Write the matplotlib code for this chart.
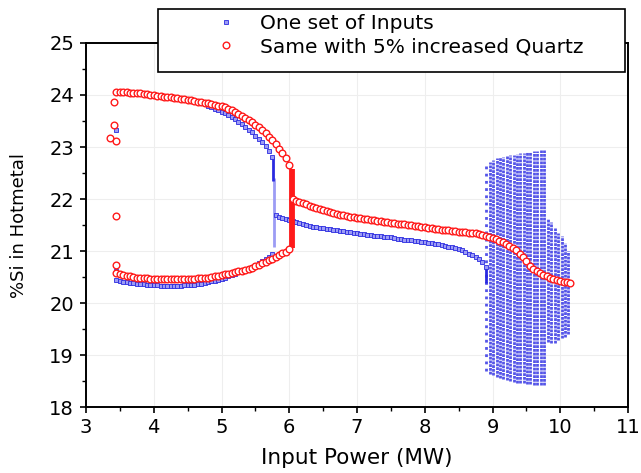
import numpy as np
import matplotlib
matplotlib.use("Agg")
import matplotlib.pyplot as plt
from matplotlib.patches import Rectangle

############ data ############
# input power samples (MW) shared by the upper / lower branches
x_branch_red = [3.45, 3.50, 3.55, 3.60, 3.65, 3.70, 3.75, 3.80, 3.85, 3.90,
                3.95, 4.00, 4.05, 4.10, 4.15, 4.20, 4.25, 4.30, 4.35, 4.40,
                4.45, 4.50, 4.55, 4.60, 4.65, 4.70, 4.75, 4.80, 4.85, 4.90,
                4.95, 5.00, 5.05, 5.10, 5.15, 5.20, 5.25, 5.30, 5.35, 5.40,
                5.45, 5.50, 5.55, 5.60, 5.65, 5.70, 5.75, 5.80, 5.85, 5.90,
                5.95, 6.00]
red_upper = [24.06, 24.06, 24.05, 24.05, 24.04, 24.04, 24.03, 24.03, 24.02, 24.01,
             24.00, 24.00, 23.99, 23.98, 23.97, 23.97, 23.96, 23.95, 23.94, 23.93,
             23.92, 23.91, 23.90, 23.89, 23.87, 23.86, 23.85, 23.84, 23.82, 23.81,
             23.79, 23.78, 23.76, 23.74, 23.71, 23.68, 23.64, 23.60, 23.56, 23.52,
             23.48, 23.43, 23.38, 23.32, 23.26, 23.20, 23.13, 23.05, 22.97, 22.88,
             22.78, 22.65]
red_lower = [20.57, 20.55, 20.54, 20.52, 20.51, 20.50, 20.49, 20.49, 20.48, 20.48,
             20.47, 20.47, 20.47, 20.47, 20.46, 20.46, 20.46, 20.46, 20.46, 20.46,
             20.46, 20.46, 20.47, 20.47, 20.48, 20.48, 20.49, 20.49, 20.50, 20.51,
             20.52, 20.53, 20.55, 20.56, 20.58, 20.59, 20.61, 20.62, 20.64, 20.66,
             20.68, 20.71, 20.73, 20.76, 20.79, 20.82, 20.85, 20.89, 20.92, 20.96,
             20.99, 21.03]

x_mid_red = [6.05, 6.10, 6.15, 6.20, 6.25, 6.30, 6.35, 6.40, 6.45, 6.50,
             6.55, 6.60, 6.65, 6.70, 6.75, 6.80, 6.85, 6.90, 6.95, 7.00,
             7.05, 7.10, 7.15, 7.20, 7.25, 7.30, 7.35, 7.40, 7.45, 7.50,
             7.55, 7.60, 7.65, 7.70, 7.75, 7.80, 7.85, 7.90, 7.95, 8.00,
             8.05, 8.10, 8.15, 8.20, 8.25, 8.30, 8.35, 8.40, 8.45, 8.50,
             8.55, 8.60, 8.65, 8.70, 8.75, 8.80, 8.85, 8.90, 8.95, 9.00,
             9.05, 9.10, 9.15, 9.20, 9.25, 9.30, 9.35, 9.40, 9.45, 9.50,
             9.55, 9.60, 9.65, 9.70, 9.75, 9.80, 9.85, 9.90, 9.95, 10.00,
             10.05, 10.10, 10.15]
red_mid = [22.00, 21.97, 21.95, 21.92, 21.90, 21.87, 21.85, 21.83, 21.81, 21.79,
           21.77, 21.75, 21.73, 21.72, 21.70, 21.69, 21.68, 21.66, 21.65, 21.64,
           21.63, 21.62, 21.61, 21.60, 21.59, 21.58, 21.57, 21.56, 21.55, 21.54,
           21.53, 21.52, 21.51, 21.51, 21.50, 21.50, 21.49, 21.48, 21.47, 21.46,
           21.45, 21.44, 21.43, 21.42, 21.41, 21.40, 21.40, 21.39, 21.38, 21.37,
           21.37, 21.36, 21.35, 21.34, 21.34, 21.33, 21.31, 21.29, 21.27, 21.25,
           21.23, 21.20, 21.17, 21.14, 21.10, 21.06, 21.01, 20.95, 20.88, 20.80,
           20.72, 20.66, 20.61, 20.57, 20.54, 20.51, 20.48, 20.46, 20.44, 20.42,
           20.41, 20.40, 20.39]

# scattered red start-up points near 3.4 MW
red_start_x = [3.42, 3.42, 3.36, 3.44, 3.44, 3.44]
red_start_y = [23.87, 23.42, 23.17, 23.12, 21.68, 20.73]

x_branch_blue = [3.45, 3.50, 3.55, 3.60, 3.65, 3.70, 3.75, 3.80, 3.85, 3.90,
                 3.95, 4.00, 4.05, 4.10, 4.15, 4.20, 4.25, 4.30, 4.35, 4.40,
                 4.45, 4.50, 4.55, 4.60, 4.65, 4.70, 4.75, 4.80, 4.85, 4.90,
                 4.95, 5.00, 5.05, 5.10, 5.15, 5.20, 5.25, 5.30, 5.35, 5.40,
                 5.45, 5.50, 5.55, 5.60, 5.65, 5.70, 5.75]
blue_upper = [24.05, 24.05, 24.04, 24.04, 24.03, 24.03, 24.02, 24.02, 24.01, 24.00,
              23.99, 23.99, 23.98, 23.97, 23.96, 23.96, 23.95, 23.94, 23.93, 23.92,
              23.91, 23.90, 23.89, 23.88, 23.86, 23.84, 23.82, 23.79, 23.77, 23.74,
              23.71, 23.68, 23.65, 23.61, 23.57, 23.53, 23.49, 23.44, 23.39, 23.33,
              23.28, 23.22, 23.16, 23.09, 23.01, 22.92, 22.80]
blue_lower = [20.44, 20.42, 20.41, 20.40, 20.39, 20.38, 20.37, 20.36, 20.36, 20.35,
              20.35, 20.34, 20.34, 20.33, 20.33, 20.33, 20.33, 20.33, 20.33, 20.33,
              20.34, 20.34, 20.35, 20.35, 20.36, 20.37, 20.39, 20.40, 20.42, 20.43,
              20.45, 20.47, 20.49, 20.51, 20.54, 20.56, 20.59, 20.61, 20.64, 20.67,
              20.70, 20.73, 20.77, 20.80, 20.84, 20.89, 20.95]

x_mid_blue = [5.80, 5.85, 5.90, 5.95, 6.00, 6.05, 6.10, 6.15, 6.20, 6.25,
              6.30, 6.35, 6.40, 6.45, 6.50, 6.55, 6.60, 6.65, 6.70, 6.75,
              6.80, 6.85, 6.90, 6.95, 7.00, 7.05, 7.10, 7.15, 7.20, 7.25,
              7.30, 7.35, 7.40, 7.45, 7.50, 7.55, 7.60, 7.65, 7.70, 7.75,
              7.80, 7.85, 7.90, 7.95, 8.00, 8.05, 8.10, 8.15, 8.20, 8.25,
              8.30, 8.35, 8.40, 8.45, 8.50, 8.55, 8.60, 8.65, 8.70, 8.75,
              8.80, 8.85, 8.90]
blue_mid = [21.69, 21.66, 21.63, 21.61, 21.59, 21.57, 21.55, 21.53, 21.52, 21.50,
            21.49, 21.47, 21.46, 21.45, 21.44, 21.43, 21.42, 21.41, 21.40, 21.39,
            21.38, 21.37, 21.36, 21.35, 21.34, 21.33, 21.32, 21.31, 21.30, 21.29,
            21.29, 21.28, 21.27, 21.26, 21.26, 21.25, 21.24, 21.23, 21.22, 21.22,
            21.21, 21.20, 21.19, 21.18, 21.17, 21.16, 21.15, 21.14, 21.13, 21.11,
            21.10, 21.08, 21.07, 21.05, 21.03, 21.01, 20.98, 20.95, 20.92, 20.88,
            20.84, 20.78, 20.70]

blue_start_x = [3.45, 3.45]
blue_start_y = [23.33, 20.62]

# jumps (vertical runs of points): x, from, to
jump_x = [5.77, 5.76, 8.90]
jump_lo = [21.08, 22.35, 20.38]
jump_hi = [22.40, 22.80, 20.68]
red_jump_x = [6.04]
red_jump_lo = [21.05]
red_jump_hi = [22.58]

# dense blue block around 9-10 MW: column x, lowest and highest point
block_x = [8.96, 9.01, 9.06, 9.11, 9.16, 9.21, 9.26, 9.31, 9.36, 9.41,
           9.46, 9.51, 9.56, 9.61, 9.66, 9.71, 9.76, 9.82, 9.87, 9.92,
           9.97, 10.02, 10.07, 10.12]
block_lo = [18.63, 18.61, 18.58, 18.56, 18.54, 18.52, 18.50, 18.49, 18.47, 18.46,
            18.46, 18.45, 18.44, 18.43, 18.43, 18.42, 18.42, 19.25, 19.24, 19.23,
            19.28, 19.32, 19.35, 19.40]
block_hi = [22.72, 22.75, 22.78, 22.80, 22.81, 22.83, 22.84, 22.85, 22.87, 22.88,
            22.89, 22.90, 22.91, 22.92, 22.93, 22.94, 22.95, 21.62, 21.55, 21.45,
            21.35, 21.28, 21.15, 21.00]
sparse_x = [8.91]
sparse_lo = [18.70]
sparse_hi = [22.72]

x_ticks = [3, 4, 5, 6, 7, 8, 9, 10, 11]
y_ticks = [18, 19, 20, 21, 22, 23, 24, 25]

BLUE = '#2a2ae0'
BLUE_FILL = '#9c9cf4'
RED = '#ff1a1a'

############ figure ############
fig = plt.figure(figsize=(6.41, 4.73), dpi=100)
ax = fig.add_axes([86 / 641, 1 - 407 / 473, 542 / 641, 364 / 473])

ax.grid(True, color='#eeeeee', linewidth=0.8, zorder=0)

# blue block and jumps
ax.vlines(block_x, block_lo, block_hi, colors='#5454e8', linewidth=2.0,
          linestyles=(0, (1.0, 0.35)), zorder=2)
ax.vlines(sparse_x, sparse_lo, sparse_hi, colors='#5454e8', linewidth=2.0,
          linestyles=(0, (1, 1.6)), zorder=2)
ax.vlines(jump_x[:1], jump_lo[:1], jump_hi[:1], colors=BLUE_FILL, linewidth=2.0, zorder=2)
ax.vlines(jump_x[1:], jump_lo[1:], jump_hi[1:], colors=BLUE, linewidth=2.0, zorder=2)

blue_kw = dict(ls='none', marker='s', ms=2.5, mec=BLUE, mfc=BLUE_FILL, mew=0.6, zorder=3)
hb, = ax.plot(x_branch_blue, blue_upper, **blue_kw)
ax.plot(x_branch_blue, blue_lower, **blue_kw)
ax.plot(x_mid_blue, blue_mid, **blue_kw)
ax.plot(blue_start_x, blue_start_y, **blue_kw)

# red curve on top
ax.vlines(red_jump_x, red_jump_lo, red_jump_hi, colors=RED, linewidth=4.2, zorder=4)
red_kw = dict(ls='none', marker='o', ms=4.8, mec=RED, mfc='white', mew=1.0, zorder=5)
hr, = ax.plot(x_branch_red, red_upper, **red_kw)
ax.plot(x_branch_red, red_lower, **red_kw)
ax.plot(x_mid_red, red_mid, **red_kw)
ax.plot(red_start_x, red_start_y, **red_kw)

ax.set_xlim(3, 11)
ax.set_ylim(18, 25)
ax.set_xticks(x_ticks)
ax.set_yticks(y_ticks)
ax.set_xticks(np.arange(3, 11, 0.5), minor=True)
ax.set_yticks(np.arange(18, 25, 0.5), minor=True)
ax.tick_params(which='major', direction='out', length=4.6, width=1.2, labelsize=14)
ax.tick_params(which='minor', direction='out', length=2.6, width=1.0)
ax.tick_params(axis='x', pad=3)
ax.tick_params(axis='y', pad=4)
for s in ax.spines.values():
    s.set_linewidth(1.4)

ax.set_xlabel('Input Power (MW)', fontsize=15.5, labelpad=8)
ax.set_ylabel('%Si in Hotmetal', fontsize=13, labelpad=15)

# legend box sits over the top spine
fig.add_artist(Rectangle((158 / 641, 1 - 72 / 473), 467 / 641, 63 / 473,
                         transform=fig.transFigure, facecolor='white',
                         edgecolor='black', linewidth=1.2, zorder=3))
leg = fig.legend([hb, hr], ['One set of Inputs', 'Same with 5% increased Quartz'],
                 loc='upper left', bbox_to_anchor=(216 / 641, 1 - 14 / 473),
                 frameon=False, fontsize=14.5, handlelength=1, handletextpad=1.2,
                 borderpad=0, borderaxespad=0, labelspacing=0.2)
leg.set_zorder(5)

fig.savefig('out.png', dpi=100)
